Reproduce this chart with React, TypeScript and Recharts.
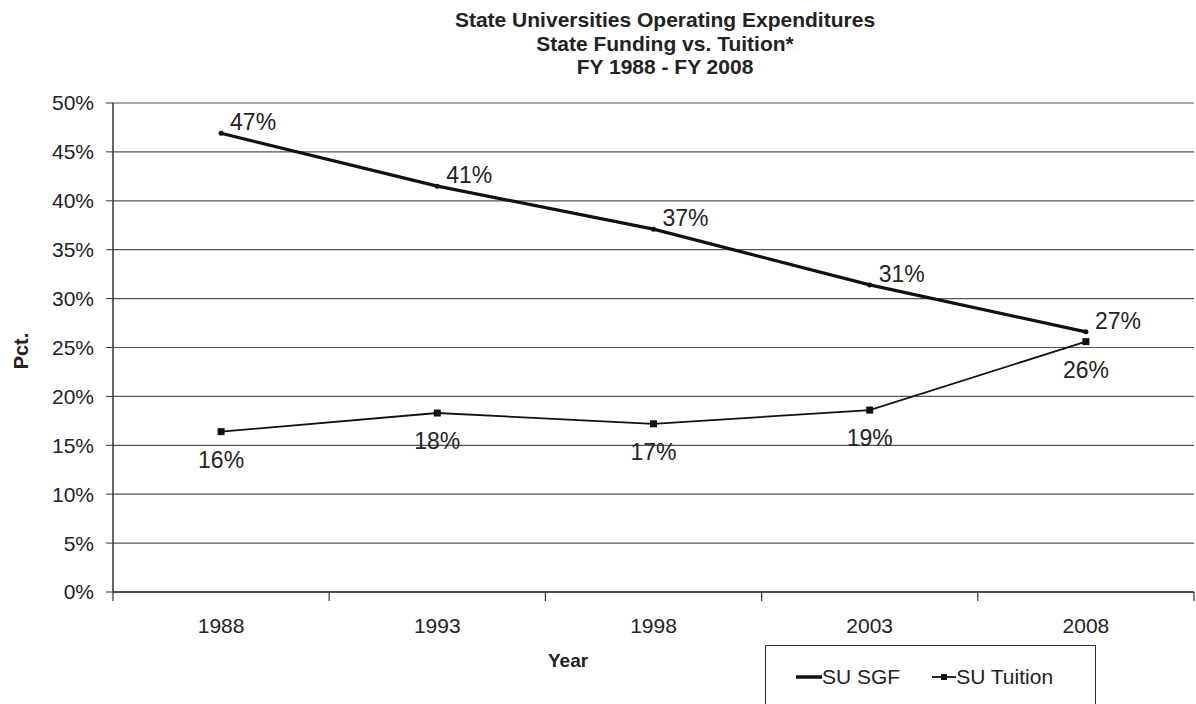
import React from "react";
import { LineChart, Line, XAxis, YAxis, CartesianGrid, LabelList } from "recharts";

const years = [1988, 1993, 1998, 2003, 2008];
const sgf = [46.9, 41.5, 37.1, 31.4, 26.6];
const tuition = [16.4, 18.3, 17.2, 18.6, 25.6];
const sgfLabels = ["47%", "41%", "37%", "31%", "27%"];
const tuitionLabels = ["16%", "18%", "17%", "19%", "26%"];
const yTicks = [0, 5, 10, 15, 20, 25, 30, 35, 40, 45, 50];
const bandEdges = [1985.5, 1990.5, 1995.5, 2000.5, 2005.5, 2010.5];

const data = years.map((year, i) => ({
  year,
  sgf: sgf[i],
  tuition: tuition[i],
  sgfLabel: sgfLabels[i],
  tuitionLabel: tuitionLabels[i],
}));

const FONT = "'Liberation Sans', Arial, sans-serif";
const INK = "#222";

// year labels sit in the middle of each band, tick marks on the band edges
function YearTick(props: any) {
  const { x, y, payload } = props;
  if (years.includes(payload.value)) {
    return (
      <text x={x} y={y + 41} textAnchor="middle" fontSize={21} fill={INK} fontFamily={FONT}>
        {payload.value}
      </text>
    );
  }
  return <line x1={x} y1={y} x2={x} y2={y + 9} stroke="#333" strokeWidth={1.2} />;
}

function SgfLabel(props: any) {
  const { x, y, value } = props;
  return (
    <text x={x + 32} y={y - 3} textAnchor="middle" fontSize={23} fill={INK} fontFamily={FONT}>
      {value}
    </text>
  );
}

function TuitionLabel(props: any) {
  const { x, y, value } = props;
  return (
    <text x={x} y={y + 36} textAnchor="middle" fontSize={23} fill={INK} fontFamily={FONT}>
      {value}
    </text>
  );
}

function SquareDot(props: any) {
  const { cx, cy } = props;
  return <rect x={cx - 3.5} y={cy - 3.5} width={7} height={7} fill="#111" />;
}

function SmallDot(props: any) {
  const { cx, cy } = props;
  return <circle cx={cx} cy={cy} r={2.5} fill="#111" />;
}

export default function App() {
  return (
    <div
      style={{
        position: "absolute",
        left: 0,
        top: 0,
        width: 1196,
        height: 704,
        background: "#fff",
        overflow: "hidden",
        fontFamily: FONT,
      }}
    >
      <div
        style={{
          position: "absolute",
          left: 0,
          top: 8,
          width: 1330,
          textAlign: "center",
          fontWeight: "bold",
          fontSize: 21,
          lineHeight: "23.5px",
          color: INK,
        }}
      >
        <div>State Universities Operating Expenditures</div>
        <div>State Funding vs. Tuition*</div>
        <div>FY 1988 - FY 2008</div>
      </div>

      <LineChart
        width={1196}
        height={704}
        data={data}
        margin={{ top: 103, right: 2, bottom: 62, left: 0 }}
      >
        <CartesianGrid vertical={false} stroke="#555" strokeWidth={1.2} />
        <XAxis
          dataKey="year"
          type="number"
          domain={[1985.5, 2010.5]}
          ticks={[...bandEdges, ...years].sort((a, b) => a - b)}
          interval={0}
          tick={<YearTick />}
          tickLine={false}
          tickSize={0}
          tickMargin={0}
          height={50}
          axisLine={{ stroke: "#333", strokeWidth: 1.5 }}
        />
        <YAxis
          domain={[0, 50]}
          ticks={yTicks}
          interval={0}
          width={113}
          tickSize={7}
          tickMargin={12}
          tickFormatter={(v: number) => `${v}%`}
          tick={{ fontSize: 21, fill: INK, fontFamily: FONT }}
          tickLine={{ stroke: "#333" }}
          axisLine={{ stroke: "#333", strokeWidth: 1.5 }}
        />
        <Line
          dataKey="sgf"
          stroke="#111"
          strokeWidth={3.2}
          dot={<SmallDot />}
          isAnimationActive={false}
        >
          <LabelList dataKey="sgfLabel" content={<SgfLabel />} />
        </Line>
        <Line
          dataKey="tuition"
          stroke="#111"
          strokeWidth={1.8}
          dot={<SquareDot />}
          isAnimationActive={false}
        >
          <LabelList dataKey="tuitionLabel" content={<TuitionLabel />} />
        </Line>
      </LineChart>

      <div
        style={{
          position: "absolute",
          left: 21,
          top: 351,
          transform: "translate(-50%, -50%) rotate(-90deg)",
          fontWeight: "bold",
          fontSize: 20,
          color: INK,
        }}
      >
        Pct.
      </div>
      <div
        style={{
          position: "absolute",
          left: 548,
          top: 650,
          fontWeight: "bold",
          fontSize: 19,
          color: INK,
        }}
      >
        Year
      </div>

      <div
        style={{
          position: "absolute",
          left: 765,
          top: 645,
          width: 331,
          height: 70,
          border: "1.5px solid #333",
          boxSizing: "border-box",
          display: "flex",
          alignItems: "flex-start",
          paddingTop: 19,
          paddingLeft: 29,
          fontSize: 21,
          color: INK,
        }}
      >
        <span style={{ display: "flex", alignItems: "center", marginRight: 31 }}>
          <svg width={27} height={10}>
            <line x1={1} y1={5} x2={27} y2={5} stroke="#111" strokeWidth={3.5} />
          </svg>
          SU SGF
        </span>
        <span style={{ display: "flex", alignItems: "center" }}>
          <svg width={25} height={10}>
            <line x1={1} y1={5} x2={25} y2={5} stroke="#111" strokeWidth={1.8} />
            <rect x={10} y={2} width={6} height={6} fill="#111" />
          </svg>
          SU Tuition
        </span>
      </div>
    </div>
  );
}
